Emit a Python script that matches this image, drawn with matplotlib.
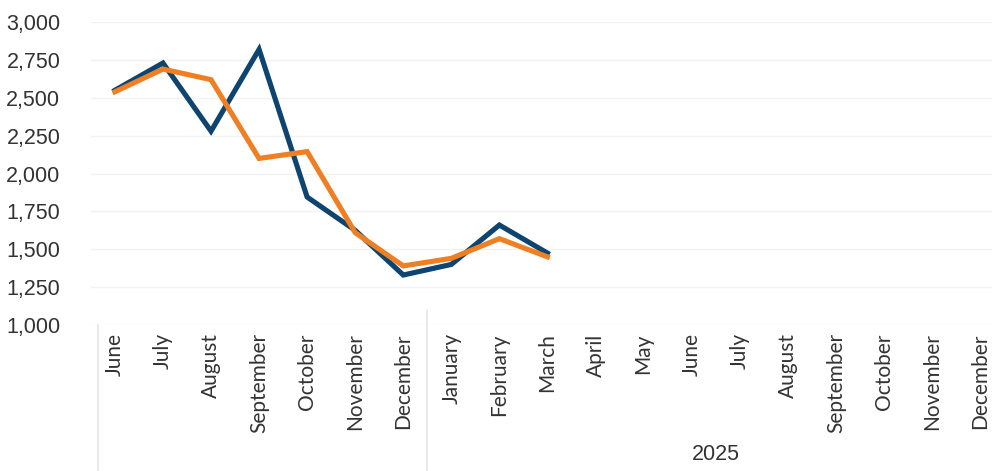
import matplotlib
matplotlib.use("Agg")
import matplotlib.pyplot as plt
from matplotlib.transforms import blended_transform_factory

months = ["June", "July", "August", "September", "October", "November", "December",
          "January", "February", "March", "April", "May", "June", "July", "August",
          "September", "October", "November", "December"]
group_label = "2025"
group_start = 7

series_blue = [2550, 2730, 2280, 2820, 1845, 1625, 1330, 1400, 1660, 1475]
series_orange = [2540, 2690, 2620, 2100, 2145, 1610, 1390, 1440, 1570, 1450]

y_ticks = [1000, 1250, 1500, 1750, 2000, 2250, 2500, 2750, 3000]

fig = plt.figure(figsize=(9.92, 4.71), dpi=100)
ax = fig.add_axes([0.0916, 0.31, 0.9205, 0.643])

x_idx = list(range(len(months)))
ax.plot(x_idx[:len(series_blue)], series_blue, color="#0E4470", lw=3.7,
        solid_joinstyle="miter", zorder=3)
ax.plot(x_idx[:len(series_orange)], series_orange, color="#EE7F22", lw=3.7,
        solid_joinstyle="miter", zorder=4)

ax.set_xlim(-0.5, len(months) - 0.5)
ax.set_ylim(1000, 3000)
ax.set_yticks(y_ticks)
ax.set_yticklabels([f"{v:,}" for v in y_ticks], fontsize=15.5, color="#333333",
                   family="Liberation Sans")
ax.set_xticks(x_idx)
ax.set_xticklabels(months, rotation=90, fontsize=15, color="#333333",
                   family="Lato", va="top", ha="center")
ax.tick_params(axis="both", length=0)
ax.tick_params(axis="y", pad=22)
ax.tick_params(axis="x", pad=6)

for s in ax.spines.values():
    s.set_visible(False)
ax.grid(axis="y", color="#f2f2f2", lw=1)
ax.set_axisbelow(True)

# group separators and labels
trans = blended_transform_factory(ax.transData, ax.transAxes)
bottom_ax = -0.31 / 0.643
ax.plot([-0.35, -0.35], [0, bottom_ax], transform=trans, color="#e6e6e6",
        lw=1.2, clip_on=False)
ax.plot([group_start - 0.5, group_start - 0.5], [0.05, bottom_ax], transform=trans,
        color="#e6e6e6", lw=1.2, clip_on=False)

center = (group_start + len(months) - 1) / 2
ax.text(center, -(455 - 325) / 303 * 1.0, group_label, transform=trans,
        ha="center", va="center", fontsize=15.5, color="#333333",
        family="Liberation Sans")

fig.savefig("out.png", dpi=100)
